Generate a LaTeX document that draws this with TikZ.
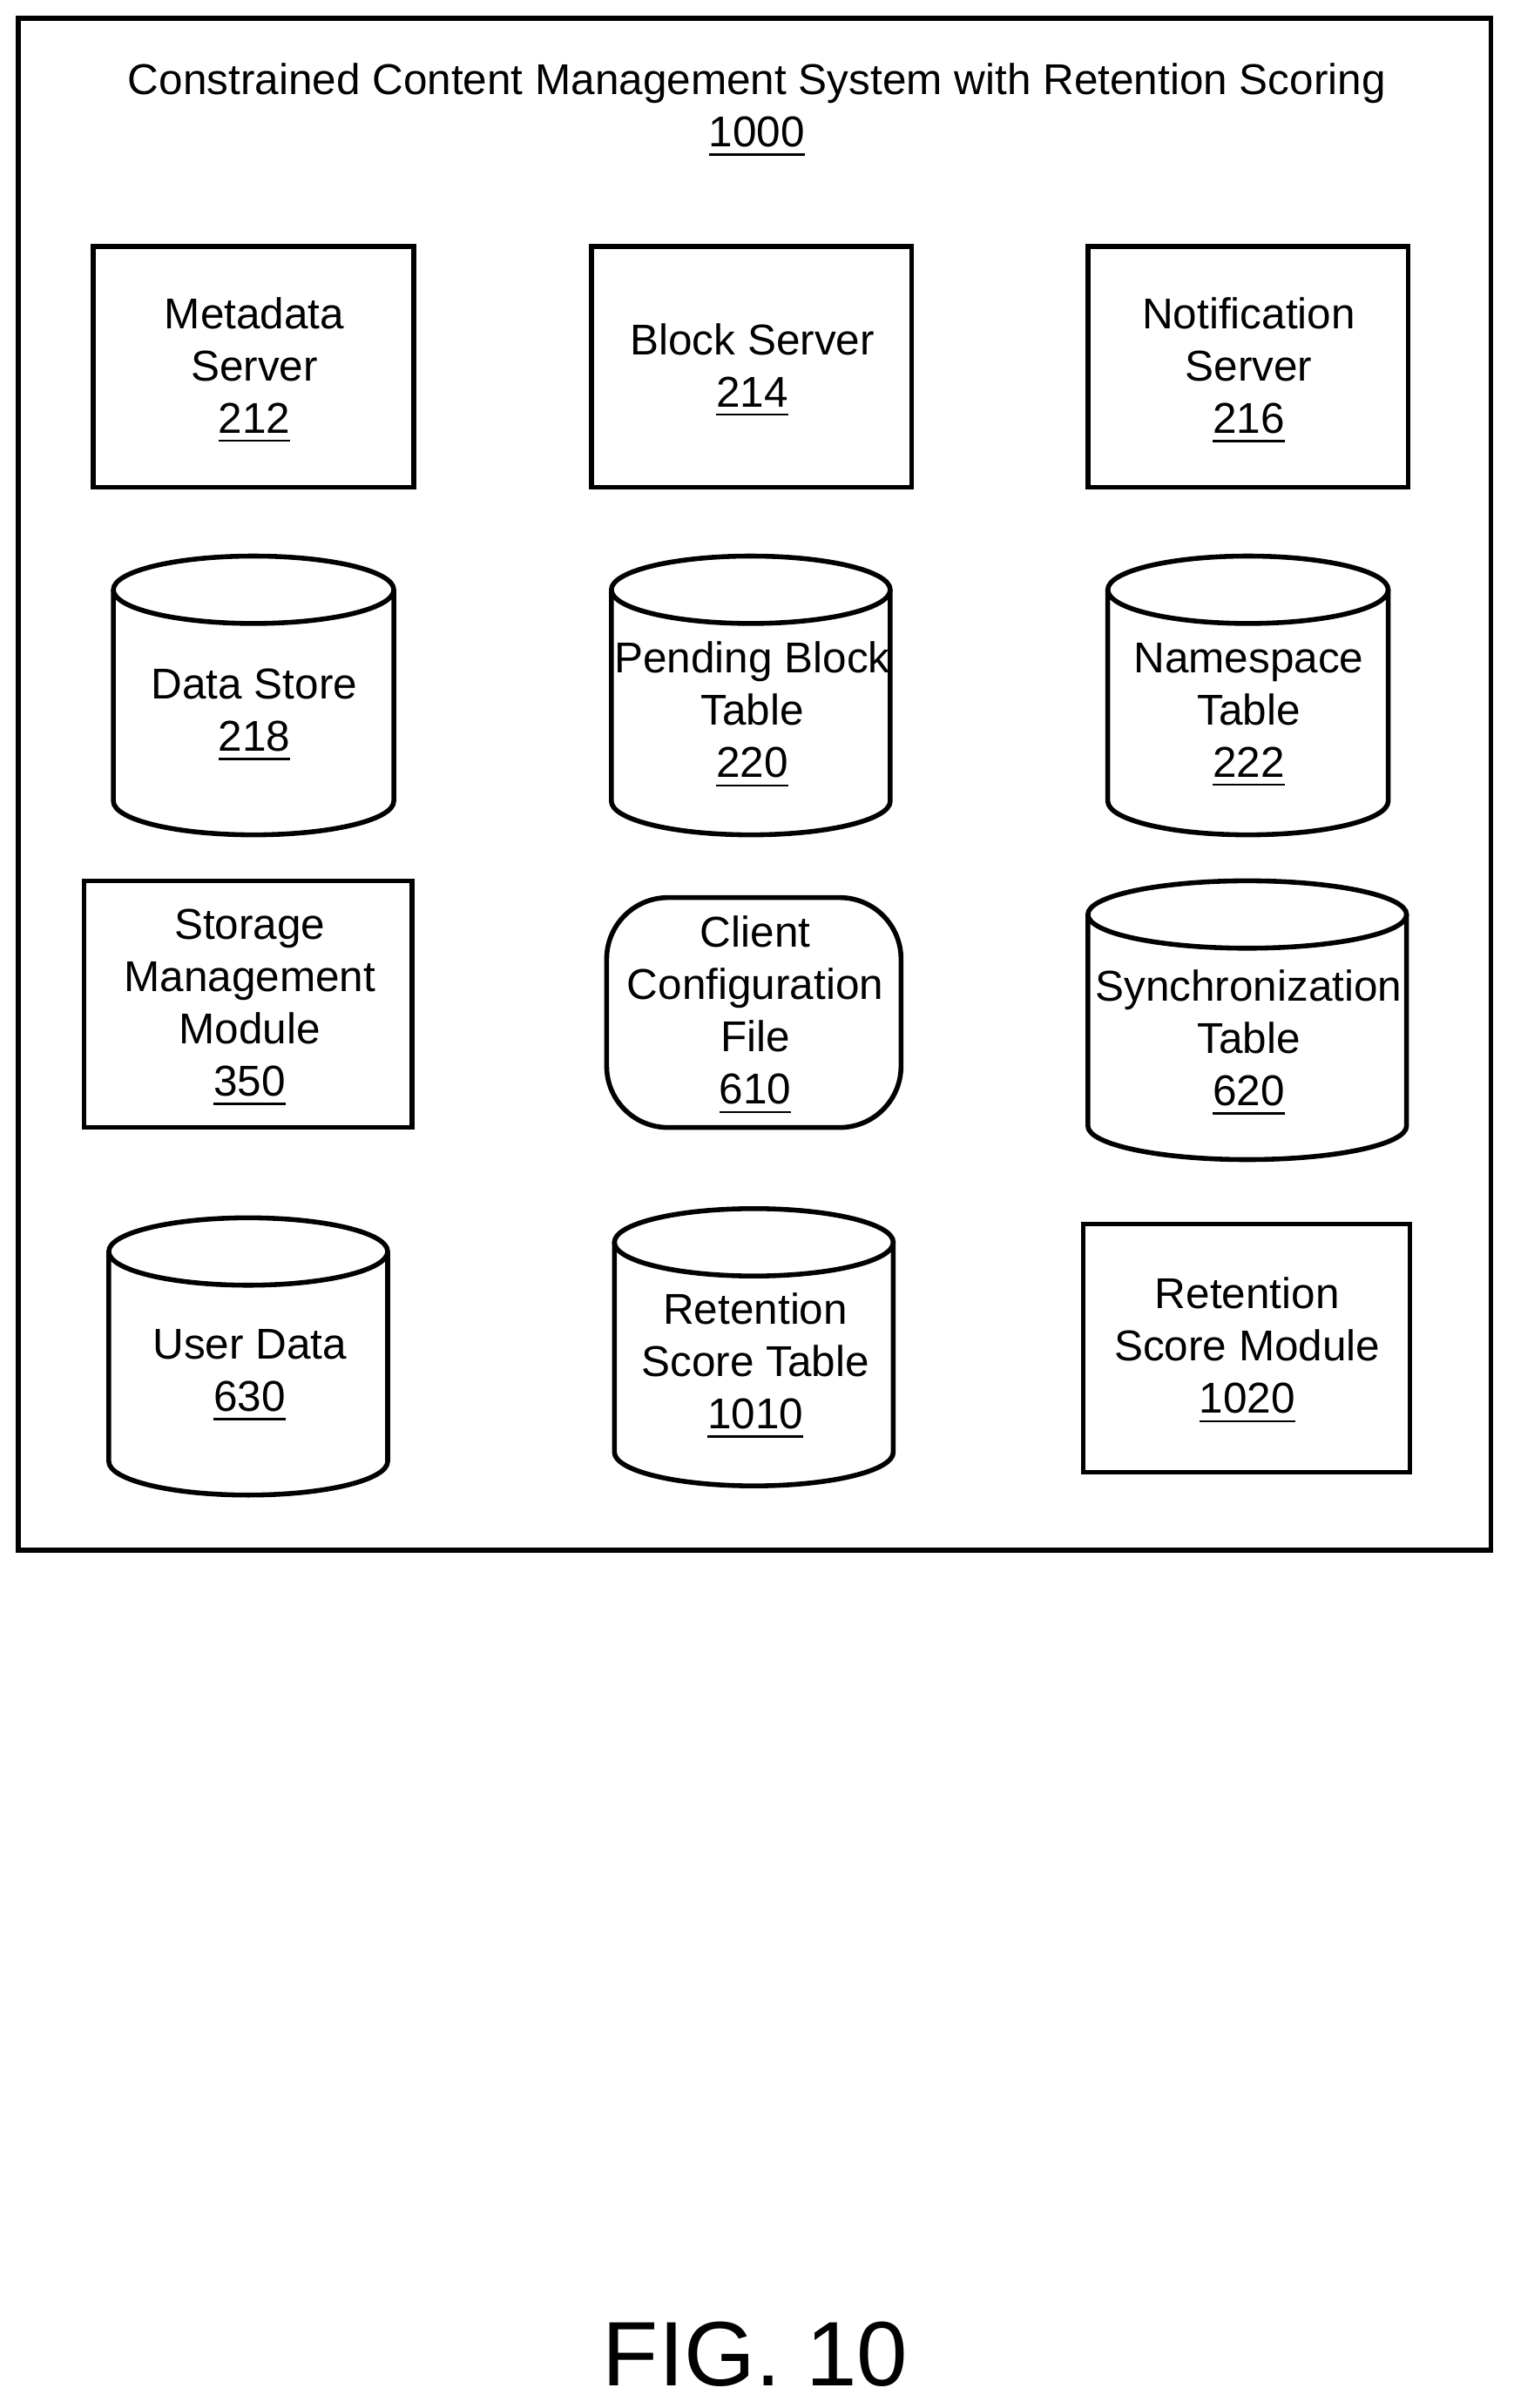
\documentclass[tikz,border=0pt]{standalone}
\usepackage{fontspec}
\setmainfont{Liberation Sans}
\begin{document}
\begin{tikzpicture}[x=0.01cm,y=-0.01cm,line width=0.9pt,
  lbl/.style={align=center,font=\fontsize{8}{9.7}\selectfont,inner sep=0pt},
  box/.style={draw,line width=0.9pt}]
\useasboundingbox (0,0) rectangle (988,1572);
\newcommand\cyl[5]{% x1 y1 x2 y2 ry
  \draw[line width=0.9pt] (#1,#2+#5) -- (#1,#4-#5) arc[start angle=180,end angle=0,x radius={(#3-#1)/2},y radius=#5] -- (#3,#2+#5);
  \draw[line width=0.9pt] ({(#1+#3)/2},#2+#5) ellipse[x radius={(#3-#1)/2},y radius=#5];}
\draw (12,12) rectangle (973,1012);
\node[lbl] (title) at (494,72) {Constrained Content Management System with Retention Scoring\\\underline{1000}};
% row 1
\node[box,minimum width=2.09cm,minimum height=1.57cm] (ms) at (165.5,239.5) {};
\node[lbl] (mst) at (166,242) {Metadata\\Server\\\underline{212}};
\node[box,minimum width=2.09cm,minimum height=1.57cm] (bs) at (490.5,239.5) {};
\node[lbl] (bst) at (491,242) {Block Server\\\underline{214}};
\node[box,minimum width=2.09cm,minimum height=1.57cm] (ns) at (814.5,239.5) {};
\node[lbl] (nst) at (815,242) {Notification\\Server\\\underline{216}};
% row 2
\cyl{74}{363}{257}{545}{22}
\node[lbl] (ds) at (166,467) {Data Store\\\underline{218}};
\cyl{399}{363}{581}{545}{22}
\node[lbl] (pb) at (491,467) {Pending Block\\Table\\\underline{220}};
\cyl{723}{363}{906}{545}{22}
\node[lbl] (nt) at (815,467) {Namespace\\Table\\\underline{222}};
% row 3
\node[box,minimum width=2.14cm,minimum height=1.61cm] (sm) at (162,655.5) {};
\node[lbl] (smt) at (163,658) {Storage\\Management\\Module\\\underline{350}};
\node[box,rounded corners=0.4cm,minimum width=1.92cm,minimum height=1.50cm] (cc) at (492,661) {};
\node[lbl] (cct) at (493,663) {Client\\Configuration\\File\\\underline{610}};
\cyl{710}{575}{918}{757}{22}
\node[lbl] (st) at (815,681) {Synchronization\\Table\\\underline{620}};
% row 4
\cyl{71}{795}{253}{976}{22}
\node[lbl] (ud) at (163,898) {User Data\\\underline{630}};
\cyl{401}{789}{583}{970}{22}
\node[lbl] (rt) at (493,892) {Retention\\Score Table\\\underline{1010}};
\node[box,minimum width=2.13cm,minimum height=1.62cm] (rm) at (813.5,880) {};
\node[lbl] (rmt) at (814,882) {Retention\\Score Module\\\underline{1020}};
\node[lbl,font=\fontsize{17}{20}\selectfont] (fig) at (493,1537) {FIG. 10};
\end{tikzpicture}
\end{document}
